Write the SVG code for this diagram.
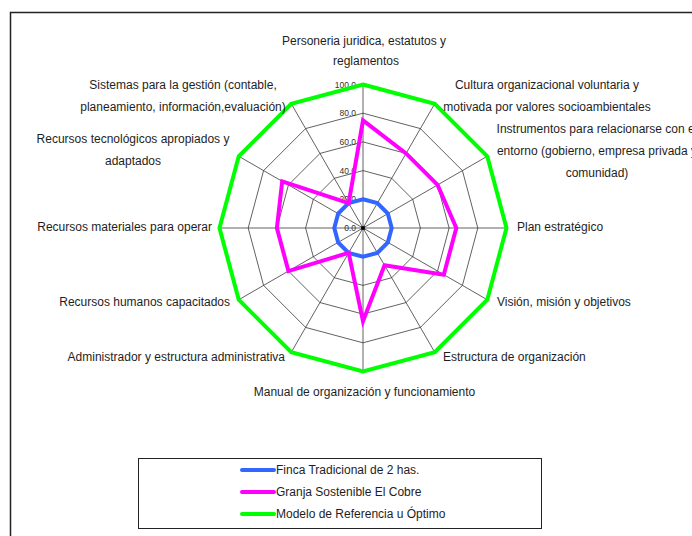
<svg xmlns="http://www.w3.org/2000/svg" width="692" height="536" viewBox="0 0 692 536">
<style>
.lbl{font-family:"Liberation Sans",Arial,sans-serif;font-size:12px;fill:#1e1e1e}
.tick{font-family:"Liberation Sans",Arial,sans-serif;font-size:8.5px;fill:#333;text-anchor:end}
.ring{fill:none;stroke:#3a3a3a;stroke-width:0.8}
.spoke{stroke:#3a3a3a;stroke-width:0.8}
.ser{fill:none;stroke-width:4;stroke-linejoin:miter}
.leg{stroke-width:4;stroke-linecap:round}
</style>
<rect width="692" height="536" fill="#fff"/>
<path d="M10.5,540 V12.5 H700" fill="none" stroke="#222" stroke-width="1.5"/>

<g id="grid" transform="translate(363,228)">
<polygon class="ring" points="0,-28.7 14.35,-24.85 24.85,-14.35 28.7,0 24.85,14.35 14.35,24.85 0,28.7 -14.35,24.85 -24.85,14.35 -28.7,0 -24.85,-14.35 -14.35,-24.85"/>
<polygon class="ring" points="0,-57.4 28.7,-49.71 49.71,-28.7 57.4,0 49.71,28.7 28.7,49.71 0,57.4 -28.7,49.71 -49.71,28.7 -57.4,0 -49.71,-28.7 -28.7,-49.71"/>
<polygon class="ring" points="0,-86.1 43.05,-74.56 74.56,-43.05 86.1,0 74.56,43.05 43.05,74.56 0,86.1 -43.05,74.56 -74.56,43.05 -86.1,0 -74.56,-43.05 -43.05,-74.56"/>
<polygon class="ring" points="0,-114.8 57.4,-99.42 99.42,-57.4 114.8,0 99.42,57.4 57.4,99.42 0,114.8 -57.4,99.42 -99.42,57.4 -114.8,0 -99.42,-57.4 -57.4,-99.42"/>
<polygon class="ring" points="0,-143.5 71.75,-124.27 124.27,-71.75 143.5,0 124.27,71.75 71.75,124.27 0,143.5 -71.75,124.27 -124.27,71.75 -143.5,0 -124.27,-71.75 -71.75,-124.27"/>
<path class="spoke" d="M0,0 L0,-143.5 M0,0 L71.75,-124.27 M0,0 L124.27,-71.75 M0,0 L143.5,0 M0,0 L124.27,71.75 M0,0 L71.75,124.27 M0,0 L0,143.5 M0,0 L-71.75,124.27 M0,0 L-124.27,71.75 M0,0 L-143.5,0 M0,0 L-124.27,-71.75 M0,0 L-71.75,-124.27"/>
<rect x="-1.8" y="-1.8" width="3.6" height="3.6" fill="#000"/>
<text class="tick" x="-7" y="3">0.0</text>
<text class="tick" x="-7" y="-25.7">20.0</text>
<text class="tick" x="-7" y="-54.4">40.0</text>
<text class="tick" x="-7" y="-83.1">60.0</text>
<text class="tick" x="-7" y="-111.8">80.0</text>
<text class="tick" x="-7" y="-140.5">100.0</text>
</g>

<g id="connectors" transform="translate(363,228)">
<polygon id="serie-finca" class="ser" stroke="#3366ff" points="0,-28.7 14.35,-24.85 24.85,-14.35 28.7,0 24.85,14.35 14.35,24.85 0,28.7 -14.35,24.85 -24.85,14.35 -28.7,0 -24.85,-14.35 -14.35,-24.85"/>
<polygon id="serie-granja" class="ser" stroke="#ff00ff" points="0,-107.6 43.05,-74.56 74.56,-43.05 93.3,0 80.8,46.65 21.53,37.28 0,93.3 -14.35,24.85 -74.56,43.05 -86.1,0 -80.8,-46.65 -14.35,-24.85"/>
<polygon id="serie-modelo" class="ser" stroke="#00ff00" points="0,-143.5 71.75,-124.27 124.27,-71.75 143.5,0 124.27,71.75 71.75,124.27 0,143.5 -71.75,124.27 -124.27,71.75 -143.5,0 -124.27,-71.75 -71.75,-124.27"/>
</g>

<g id="ax-personeria"><text class="lbl" text-anchor="middle" x="364" y="45">Personeria juridica, estatutos y</text><text class="lbl" text-anchor="middle" x="366" y="65">reglamentos</text></g>
<g id="ax-cultura"><text class="lbl" text-anchor="middle" x="547" y="89">Cultura organizacional voluntaria y</text><text class="lbl" text-anchor="middle" x="547" y="111">motivada por valores socioambientales</text></g>
<g id="ax-instrumentos"><text class="lbl" text-anchor="middle" x="597" y="133">Instrumentos para relacionarse con el</text><text class="lbl" text-anchor="middle" x="597" y="155">entorno (gobierno, empresa privada y</text><text class="lbl" text-anchor="middle" x="597" y="177">comunidad)</text></g>
<g id="ax-plan"><text class="lbl" x="517" y="231">Plan estratégico</text></g>
<g id="ax-vision"><text class="lbl" x="497" y="306">Visión, misión y objetivos</text></g>
<g id="ax-estructura"><text class="lbl" x="443" y="361">Estructura de organización</text></g>
<g id="ax-manual"><text class="lbl" text-anchor="middle" x="364.5" y="396">Manual de organización y funcionamiento</text></g>
<g id="ax-administrador"><text class="lbl" text-anchor="end" x="285" y="361">Administrador y estructura administrativa</text></g>
<g id="ax-humanos"><text class="lbl" text-anchor="end" x="230" y="306">Recursos humanos capacitados</text></g>
<g id="ax-materiales"><text class="lbl" text-anchor="end" x="212" y="231">Recursos materiales para operar</text></g>
<g id="ax-tecnologicos"><text class="lbl" text-anchor="middle" x="133" y="143">Recursos tecnológicos apropiados y</text><text class="lbl" text-anchor="middle" x="133" y="165">adaptados</text></g>
<g id="ax-sistemas"><text class="lbl" text-anchor="middle" x="183" y="89">Sistemas para la gestión (contable,</text><text class="lbl" text-anchor="middle" x="183" y="111">planeamiento, información,evaluación)</text></g>

<g id="legend">
<rect x="138.5" y="458.5" width="403" height="70" fill="#fff" stroke="#222" stroke-width="1"/>
<line class="leg" x1="242" y1="470" x2="274" y2="470" stroke="#3366ff"/>
<line class="leg" x1="242" y1="492" x2="274" y2="492" stroke="#ff00ff"/>
<line class="leg" x1="242" y1="514" x2="274" y2="514" stroke="#00ff00"/>
<text class="lbl" x="276" y="474">Finca Tradicional de 2 has.</text>
<text class="lbl" x="276" y="496">Granja Sostenible El Cobre</text>
<text class="lbl" x="276" y="518">Modelo de Referencia u Óptimo</text>
</g>
</svg>
